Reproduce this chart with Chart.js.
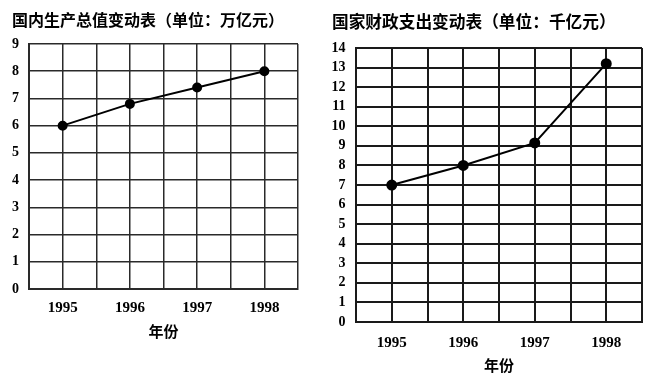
<!DOCTYPE html>
<html>
<head>
<meta charset="utf-8">
<script src="https://cdn.jsdelivr.net/npm/chart.js@4.4.1/dist/chart.umd.min.js"></script>
<style>
  html, body { margin: 0; padding: 0; background: #fff; }
  #wrap { position: relative; width: 654px; height: 391px; overflow: hidden; background: #fff; }
  #c1 { position: absolute; left: 0; top: 0; }
  #c2 { position: absolute; left: 330px; top: 0; }
</style>
</head>
<body>
<div id="wrap">
  <canvas id="c1" width="330" height="391"></canvas>
  <canvas id="c2" width="324" height="391"></canvas>
</div>
<script>
// ---- data ----
const years = [1995, 1996, 1997, 1998];
const gdpValues = [6.0, 6.8, 7.4, 8.0];          // 万亿元
const expenditureValues = [7.0, 8.0, 9.15, 13.2]; // 千亿元
const title1 = '国内生产总值变动表（单位：万亿元）';
const title2 = '国家财政支出变动表（单位：千亿元）';
const xAxisTitle = '年份';
const yMax1 = 9;
const yMax2 = 14;

const serifBold = (size) => ({ family: '"Liberation Serif", "DejaVu Serif", serif', size: size, weight: 'bold' });
const cjkBold = (size) => ({ family: '"Noto Sans CJK SC", sans-serif', size: size, weight: 'bold' });

function makeChart(canvasId, values, title, yMax, cfg) {
  const pts = years.map((y, i) => ({ x: y, y: values[i] }));
  return new Chart(document.getElementById(canvasId), {
    type: 'line',
    data: {
      datasets: [{
        data: pts,
        borderColor: '#000',
        borderWidth: 2,
        backgroundColor: '#000',
        pointBackgroundColor: '#000',
        pointBorderColor: '#000',
        pointRadius: cfg.pointRadius,
        pointHoverRadius: cfg.pointRadius,
        tension: 0,
        clip: false
      }]
    },
    options: {
      responsive: false,
      animation: false,
      events: [],
      layout: { padding: cfg.layoutPadding },
      plugins: {
        legend: { display: false },
        tooltip: { enabled: false },
        title: {
          display: true,
          text: title,
          align: 'start',
          color: '#000',
          font: cjkBold(cfg.titleSize),
          padding: cfg.titlePadding
        }
      },
      scales: {
        x: {
          type: 'linear',
          min: years[0] - 0.5,
          max: years[years.length - 1] + 0.5,
          afterBuildTicks: (scale) => {
            const t = [];
            for (let v = years[0] - 0.5; v <= years[years.length - 1] + 0.5 + 1e-9; v += 0.5) t.push({ value: v });
            scale.ticks = t;
          },
          afterFit: (scale) => { scale.height = cfg.xAxisHeight; },
          ticks: {
            autoSkip: false,
            maxRotation: 0,
            padding: cfg.xTickPadding,
            color: '#000',
            font: serifBold(15),
            callback: (v) => Number.isInteger(v) ? String(v) : ''
          },
          grid: { color: cfg.gridColor, lineWidth: cfg.gridWidth, drawTicks: false },
          border: { color: cfg.gridColor, width: cfg.borderWidth },
          title: {
            display: true,
            text: xAxisTitle,
            color: '#000',
            font: cjkBold(15),
            padding: { top: 0, bottom: 2 }
          }
        },
        y: {
          min: 0,
          max: yMax,
          afterFit: (scale) => { scale.width = cfg.yAxisWidth; },
          ticks: {
            stepSize: 1,
            maxTicksLimit: 20,
            autoSkip: false,
            padding: cfg.yTickPadding,
            color: '#000',
            font: serifBold(14)
          },
          grid: { color: cfg.gridColor, lineWidth: cfg.gridWidth, drawTicks: false },
          border: { color: cfg.gridColor, width: cfg.borderWidth }
        }
      }
    }
  });
}

makeChart('c1', gdpValues, title1, yMax1, {
  pointRadius: 4,
  layoutPadding: { left: 12, right: 32, top: 0, bottom: 49 },
  titleSize: 16,
  titlePadding: { top: 10.4, bottom: 14.4 },
  xAxisHeight: 53,
  xTickPadding: 10,
  yAxisWidth: 17,
  yTickPadding: 10,
  gridColor: '#2a2a2a',
  gridWidth: 1.5,
  borderWidth: 2
});

makeChart('c2', expenditureValues, title2, yMax2, {
  pointRadius: 4.5,
  layoutPadding: { left: 2, right: 12, top: 0, bottom: 15 },
  titleSize: 16.7,
  titlePadding: { top: 12, bottom: 16 },
  xAxisHeight: 54,
  xTickPadding: 12,
  yAxisWidth: 24,
  yTickPadding: 10.5,
  gridColor: '#1a1a1a',
  gridWidth: 2,
  borderWidth: 2
});
</script>
</body>
</html>
